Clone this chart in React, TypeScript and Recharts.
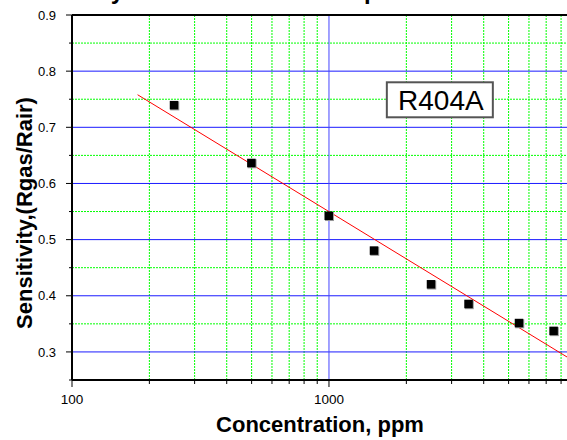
import React from 'react';
import {
  ComposedChart,
  XAxis,
  YAxis,
  Scatter,
  ReferenceLine,
  ReferenceDot,
  Customized,
} from 'recharts';

const concentrations = [250, 500, 1000, 1500, 2500, 3500, 5500, 7500];
const sensitivity = [0.739, 0.636, 0.542, 0.48, 0.42, 0.385, 0.351, 0.337];
const fitX = [180, 8437];
const fitY = [0.758, 0.291];

const xTicks = [100, 200, 300, 400, 500, 600, 700, 800, 900, 1000, 2000, 3000, 4000, 5000, 6000, 7000, 8000];
const xTickLabels = [100, 1000];
const yTicks = [0.25, 0.3, 0.35, 0.4, 0.45, 0.5, 0.55, 0.6, 0.65, 0.7, 0.75, 0.8, 0.85, 0.9];
const yTickLabels = [0.3, 0.4, 0.5, 0.6, 0.7, 0.8, 0.9];
const yMajorGrid = [0.3, 0.4, 0.5, 0.6, 0.7, 0.8];
const yMinorGrid = [0.35, 0.45, 0.55, 0.65, 0.75, 0.85];
const xMinorGrid = [200, 300, 400, 500, 600, 700, 800, 900, 2000, 3000, 4000, 5000, 6000, 7000, 8000];
const xMajorGrid = [1000];

const title = 'Sensitivity vs concentration slope';
const xTitle = 'Concentration, ppm';
const yTitle = 'Sensitivity,(Rgas/Rair)';
const annotation = 'R404A';
const annotationAt = { x: 2700, y: 0.749 };

const points = concentrations.map((c, i) => ({ x: c, y: sensitivity[i] }));
const fitData = fitX.map((c, i) => ({ x: c, y: fitY[i] }));

const FONT = '"Liberation Sans", Arial, sans-serif';

const isIn = (arr: number[], v: number) => arr.some((m) => Math.abs(m - v) < 1e-6);

const YTick = (props: any) => {
  const { x, y, payload } = props;
  const v = payload.value;
  const major = isIn(yTickLabels, v);
  return (
    <g>
      <line x1={x} x2={x - (major ? 6 : 3)} y1={y} y2={y} stroke="#000" strokeWidth={1} />
      {major && (
        <text x={x - 16} y={y} dy={4.6} textAnchor="end" fontSize={13} fontFamily={FONT} fill="#000">
          {v.toFixed(1)}
        </text>
      )}
    </g>
  );
};

const XTick = (props: any) => {
  const { x, y, payload } = props;
  const v = payload.value;
  const major = isIn(xTickLabels, v);
  return (
    <g>
      <line x1={x} x2={x} y1={y} y2={y + (major ? 7 : 4)} stroke="#000" strokeWidth={1} />
      {major && (
        <text x={x} y={y + 24} textAnchor="middle" fontSize={13.5} fontFamily={FONT} fill="#000">
          {String(v)}
        </text>
      )}
    </g>
  );
};

const Square = (props: any) => {
  const { cx, cy } = props;
  if (cx == null || cy == null) return <g />;
  return (
    <g>
      <rect x={cx - 4} y={cy - 4} width={9} height={9} fill="#9a9a9a" />
      <rect x={cx - 4.5} y={cy - 4.5} width={8.5} height={8.5} fill="#000" />
    </g>
  );
};

const NoDot = () => <g />;

const AnnotationBox = (props: any) => {
  const { cx, cy } = props;
  if (cx == null || cy == null) return <g />;
  return (
    <g>
      <rect x={cx - 53} y={cy - 17.5} width={106} height={35} fill="#fff" stroke="#555" strokeWidth={2} />
      <text x={cx + 1} y={cy + 10} textAnchor="middle" fontSize={28} fontFamily={FONT} fill="#000">
        {annotation}
      </text>
    </g>
  );
};

const Titles = () => (
  <g fontFamily={FONT} fontWeight="bold" fill="#000">
    <text x={4} y={-1} fontSize={24}>{title}</text>
    <text x={320} y={432} textAnchor="middle" fontSize={22}>{xTitle}</text>
    <text x={32} y={213} textAnchor="middle" fontSize={22} transform="rotate(-90 32 213)">{yTitle}</text>
  </g>
);

export default function App() {
  return (
    <div style={{ position: 'absolute', left: 0, top: 0, width: 567, height: 440, background: '#fff' }}>
      <ComposedChart width={567} height={440} margin={{ top: 15, right: 0, bottom: 0, left: 0 }}>
        <XAxis
          dataKey="x"
          type="number"
          scale="log"
          domain={[100, 8437]}
          allowDataOverflow
          ticks={xTicks}
          interval={0}
          height={60}
          tickSize={0}
          tickMargin={0}
          tick={<XTick />}
          axisLine={{ stroke: '#000', strokeWidth: 2 }}
          tickLine={false}
        />
        <YAxis
          dataKey="y"
          type="number"
          domain={[0.25, 0.9]}
          allowDataOverflow
          ticks={yTicks}
          interval={0}
          width={72}
          tickSize={0}
          tickMargin={0}
          tick={<YTick />}
          axisLine={{ stroke: '#000', strokeWidth: 2 }}
          tickLine={false}
        />
        {yMinorGrid.map((v) => (
          <ReferenceLine key={'ym' + v} y={v} stroke="#00ff00" strokeDasharray="2 1" />
        ))}
        {xMinorGrid.map((v) => (
          <ReferenceLine key={'xm' + v} x={v} stroke="#00ff00" strokeDasharray="2 1" />
        ))}
        {yMajorGrid.map((v) => (
          <ReferenceLine key={'yM' + v} y={v} stroke="#1a1aff" />
        ))}
        {xMajorGrid.map((v) => (
          <ReferenceLine key={'xM' + v} x={v} stroke="#4444ff" />
        ))}
        <ReferenceLine y={0.9} stroke="#000" strokeWidth={2} />
        <Scatter
          data={fitData}
          dataKey="y"
          line={{ stroke: '#ff0000', strokeWidth: 1 }}
          shape={NoDot}
          isAnimationActive={false}
        />
        <Scatter data={points} dataKey="y" shape={Square} isAnimationActive={false} />
        <ReferenceDot x={annotationAt.x} y={annotationAt.y} shape={AnnotationBox} />
        <Customized component={Titles} />
      </ComposedChart>
    </div>
  );
}
